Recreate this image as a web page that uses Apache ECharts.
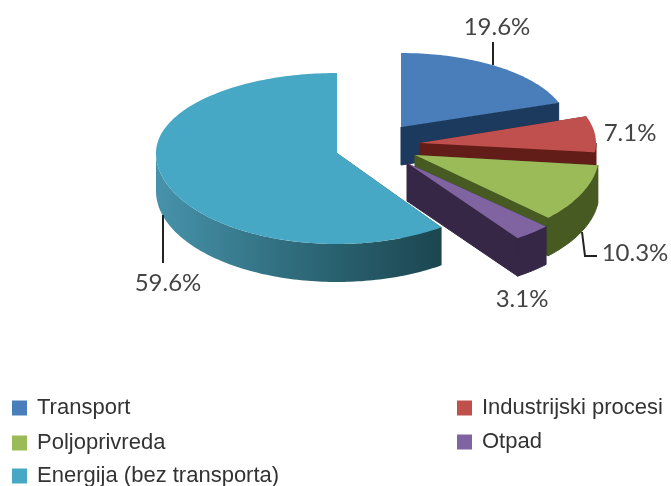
<!DOCTYPE html>
<html>
<head>
<meta charset="utf-8">
<title>Emisije</title>
<style>
    html, body { margin: 0; padding: 0; background: #fff; }
    #main { width: 671px; height: 486px; }
</style>
<script src="https://cdn.jsdelivr.net/npm/echarts@6/dist/echarts.min.js"></script>
</head>
<body>
<div id="main"></div>
<script>
// data
var names = ['Transport', 'Industrijski procesi', 'Poljoprivreda', 'Otpad', 'Energija (bez transporta)'];
var values = [19.6, 7.1, 10.3, 3.1, 59.6];

// colours: top face, wall
var topColors = ['#4a7ebb', '#c0504d', '#9bbb59', '#8064a2', '#46a8c4'];
var wallColors = ['#1b3a5e', '#631d19', '#465a22', '#352745', '#1c4650'];

// exploded position of every slice, back half of the ellipse is flatter than the front
var centers = [[401, 127], [420, 143], [415, 155], [407, 163], [337, 153]];
var radiusX = [167, 176, 184, 192, 181];
var radiusBack = [74, 81, 90, 92, 80];
var radiusFront = [81, 83, 91, 92, 91];
var depth = 38;

// label anchor + leader line
var labelPos = [[497, 27], [630, 133], [635, 253], [522, 299], [168, 283]];
var leaders = [
    [[493, 42], [493, 65]],
    null,
    [[582, 232], [585, 256], [597, 256]],
    null,
    [[163, 215], [163, 263]]
];

var total = 0;
values.forEach(function (v) { total += v; });

function sliceAngles(index) {
    var start = -Math.PI / 2;
    for (var i = 0; i < index; i++) {
        start += values[i] / total * Math.PI * 2;
    }
    return [start, start + values[index] / total * Math.PI * 2];
}

function rim(i, angle) {
    var ry = Math.sin(angle) >= 0 ? radiusFront[i] : radiusBack[i];
    return [centers[i][0] + radiusX[i] * Math.cos(angle), centers[i][1] + ry * Math.sin(angle)];
}

function arcPoints(i, from, to) {
    var pts = [];
    var steps = Math.max(2, Math.ceil((to - from) / 0.02));
    for (var k = 0; k <= steps; k++) {
        pts.push(rim(i, from + (to - from) * k / steps));
    }
    return pts;
}

function down(p) {
    return [p[0], p[1] + depth];
}

function renderSlice(i) {
    return function (params, api) {
        var angles = sliceAngles(i);
        var a = angles[0], b = angles[1];
        var apex = centers[i];
        var children = [];
        var wallFill = wallColors[i];

        // cut faces, the stroke hides the seam next to the curved wall
        [a, b].forEach(function (angle) {
            var p = rim(i, angle);
            var seamed = angle === b && i !== 4;
            children.push({
                type: 'polygon',
                shape: { points: [apex, p, down(p), down(apex)] },
                style: seamed ? { fill: wallFill, stroke: wallFill, lineWidth: 1 } : { fill: wallFill }
            });
        });

        // curved outer wall, only the part that faces the viewer
        var from = Math.max(a, 0), to = Math.min(b, Math.PI);
        if (to > from) {
            var arc = arcPoints(i, from, to);
            var fill = wallFill;
            if (i === 4) {
                fill = new echarts.graphic.LinearGradient(0, 0, 1, 0, [
                    { offset: 0, color: '#4793ab' },
                    { offset: 0.5, color: '#2e6a7a' },
                    { offset: 1, color: '#1c4650' }
                ]);
            }
            children.push({
                type: 'polygon',
                shape: { points: arc.concat(arc.map(down).reverse()) },
                style: i === 4 ? { fill: fill } : { fill: fill, stroke: wallFill, lineWidth: 1 }
            });
        }

        // top face
        children.push({
            type: 'polygon',
            shape: { points: [apex].concat(arcPoints(i, a, b)) },
            style: { fill: topColors[i] }
        });

        if (leaders[i]) {
            children.push({
                type: 'polyline',
                shape: { points: leaders[i] },
                style: { stroke: '#222', lineWidth: 2, fill: 'none' }
            });
        }
        children.push({
            type: 'text',
            style: {
                x: labelPos[i][0],
                y: labelPos[i][1],
                text: api.value(0).toFixed(1) + '%',
                font: '24px Lato',
                fill: '#444',
                align: 'center',
                verticalAlign: 'middle'
            }
        });
        return { type: 'group', children: children };
    };
}

var seriesList = names.map(function (name, i) {
    return {
        type: 'custom',
        name: name,
        coordinateSystem: 'none',
        renderItem: renderSlice(i),
        itemStyle: { color: topColors[i] },
        data: [[values[i]]],
        silent: true
    };
});

function legendBlock(items, left, top, gap) {
    return {
        data: items,
        left: left,
        top: top,
        orient: 'vertical',
        icon: 'rect',
        itemWidth: 15,
        itemHeight: 15,
        itemGap: gap,
        padding: 0,
        selectedMode: false,
        textStyle: { fontFamily: 'Liberation Sans', fontSize: 22, color: '#333', padding: [0, 0, 0, 5] }
    };
}

var myChart = echarts.init(document.getElementById('main'));
myChart.setOption({
    animation: false,
    backgroundColor: '#fff',
    legend: [
        legendBlock([names[0], names[2]], 12, 397, 13),
        legendBlock([names[4]], 12, 465, 0),
        legendBlock([names[1], names[3]], 457, 397, 12)
    ],
    series: seriesList
});
</script>
</body>
</html>
